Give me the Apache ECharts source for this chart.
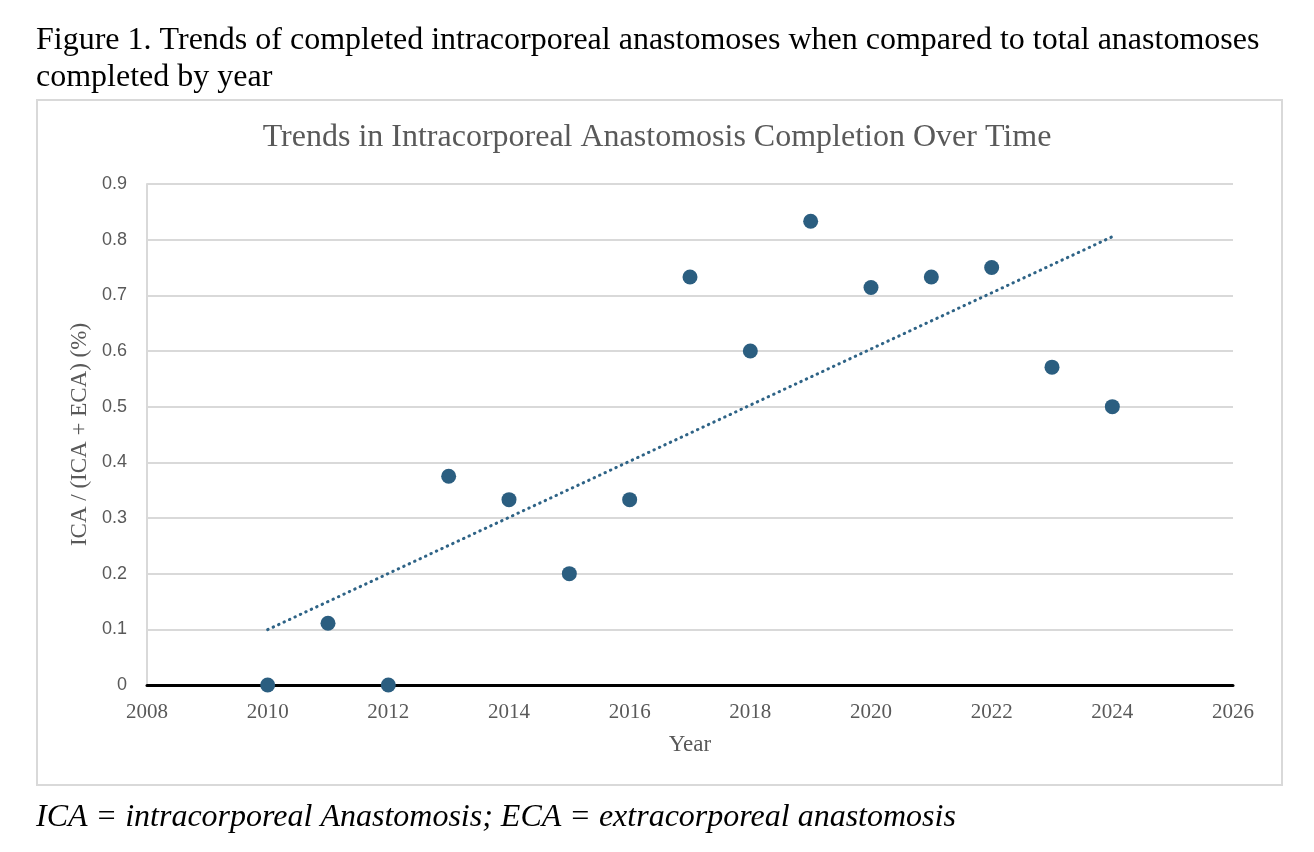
<!DOCTYPE html>
<html><head><meta charset="utf-8">
<script src="https://cdn.jsdelivr.net/npm/echarts@6/dist/echarts.min.js"></script>
<style>html,body{margin:0;padding:0;background:#fff}#c{width:1314px;height:852px}</style>
</head><body><div id="c"></div>
<script>
var years = [2010,2011,2012,2013,2014,2015,2016,2017,2018,2019,2020,2021,2022,2023,2024];
var ratios = [0,0.111,0,0.375,0.333,0.2,0.333,0.733,0.6,0.833,0.714,0.733,0.75,0.571,0.5];
var yTicks = [0,0.1,0.2,0.3,0.4,0.5,0.6,0.7,0.8,0.9];
var xTicks = [2008,2010,2012,2014,2016,2018,2020,2022,2024,2026];

// linear least-squares trendline from the data
var n = years.length, mx = 0, my = 0;
for (var i=0;i<n;i++){mx+=years[i];my+=ratios[i];}
mx/=n; my/=n;
var sxy=0,sxx=0;
for (var i=0;i<n;i++){sxy+=(years[i]-mx)*(ratios[i]-my);sxx+=(years[i]-mx)*(years[i]-mx);}
var slope=sxy/sxx, icpt=my-slope*mx;
var trend=[[years[0],icpt+slope*years[0]],[years[n-1],icpt+slope*years[n-1]]];

var chart = echarts.init(document.getElementById('c'));
var serif = '"Liberation Serif","Times New Roman",serif';
var sans = 'Liberation Sans, Arial, Helvetica, sans-serif';
chart.setOption({
  animation:false,
  backgroundColor:'#fff',
  title:[
    {text:'Figure 1. Trends of completed intracorporeal anastomoses when compared to total anastomoses\ncompleted by year',
     left:31,top:17,textStyle:{fontFamily:serif,fontSize:32,fontWeight:'normal',color:'#000',lineHeight:37}},
    {text:'Trends in Intracorporeal Anastomosis Completion Over Time',left:'center',top:117,
     textStyle:{fontFamily:serif,fontSize:32,fontWeight:'normal',color:'#595959'}},
    {text:'ICA = intracorporeal Anastomosis; ECA = extracorporeal anastomosis',left:31,top:797,
     textStyle:{fontFamily:serif,fontSize:32,fontWeight:'normal',fontStyle:'italic',color:'#000'}}
  ],
  graphic:[{type:'rect',shape:{x:37,y:100,width:1245,height:685},style:{fill:'none',stroke:'#d9d9d9',lineWidth:2},z:-1}],
  grid:{left:147,right:81,top:184,bottom:167},
  xAxis:{type:'value',min:xTicks[0],max:xTicks[xTicks.length-1],interval:2,
    name:'Year',nameLocation:'middle',nameGap:48,
    nameTextStyle:{fontFamily:serif,fontSize:23,color:'#595959'},
    axisLine:{onZero:true,lineStyle:{color:'#000',width:3}},
    axisTick:{show:false},splitLine:{show:false},
    axisLabel:{fontFamily:serif,fontSize:21,color:'#595959',margin:17,
      customValues:xTicks,formatter:function(v){return String(v);}}},
  yAxis:{type:'value',min:yTicks[0],max:yTicks[yTicks.length-1],interval:0.1,
    name:'ICA / (ICA + ECA) (%)',nameLocation:'middle',nameGap:52,
    nameTextStyle:{fontFamily:serif,fontSize:23,color:'#595959'},
    axisLine:{show:true,lineStyle:{color:'#d9d9d9',width:2}},
    axisTick:{show:false},
    splitLine:{show:true,lineStyle:{color:'#d9d9d9',width:2}},
    axisLabel:{fontFamily:sans,fontSize:18,color:'#595959',margin:20,
      formatter:function(v){return String(Math.round(v*10)/10);}}},
  series:[
    {type:'line',data:trend,symbol:'none',
     lineStyle:{color:'#2e6386',width:3,type:[0.5,5.5],cap:'round'},z:2},
    {type:'scatter',data:years.map(function(y,i){return [y,ratios[i]];}),
     symbolSize:15,itemStyle:{color:'#2b5e80',opacity:1},z:3}
  ]
});
</script></body></html>
